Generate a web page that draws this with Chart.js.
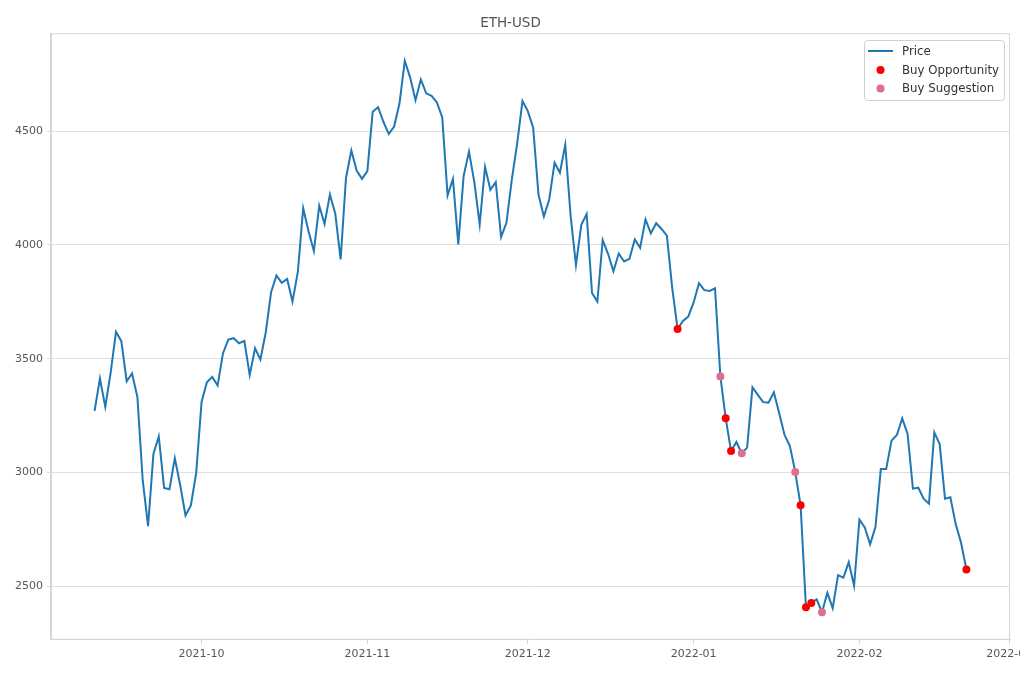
<!DOCTYPE html>
<html>
<head>
<meta charset="utf-8">
<title>ETH-USD</title>
<script src="https://cdn.jsdelivr.net/npm/chart.js@4.4.8/dist/chart.umd.min.js"></script>
<style>
  html, body { margin: 0; padding: 0; background: #fff; overflow: hidden; }
  #wrap { width: 1020px; height: 680px; overflow: hidden; position: relative; }
</style>
</head>
<body>
<div id="wrap"><canvas id="chart" width="1040" height="680"></canvas></div>
<script>
// daily closes, first one on startDate
const startDate = '2021-09-11';
const price = [
  3271, 3413, 3288, 3438, 3618, 3577, 3401, 3435, 3332, 2966,
  2764, 3081, 3158, 2932, 2926, 3063, 2945, 2811, 2855, 2998,
  3310, 3396, 3420, 3382, 3523, 3584, 3590, 3568, 3578, 3428,
  3546, 3496, 3615, 3792, 3866, 3833, 3850, 3751, 3881, 4161,
  4060, 3973, 4172, 4092, 4222, 4137, 3936, 4293, 4415, 4327,
  4290, 4324, 4585, 4605, 4541, 4487, 4520, 4621, 4809, 4735,
  4636, 4727, 4666, 4655, 4626, 4560, 4217, 4290, 4002, 4303,
  4410, 4276, 4090, 4342, 4242, 4276, 4034, 4097, 4286, 4444,
  4632, 4588, 4515, 4220, 4125, 4199, 4361, 4317, 4440, 4127,
  3912, 4088, 4136, 3789, 3751, 4021, 3961, 3884, 3962, 3927,
  3939, 4024, 3987, 4112, 4051, 4095, 4070, 4041, 3810, 3631,
  3666, 3685, 3747, 3832, 3801, 3798, 3809, 3422, 3238, 3094,
  3134, 3084, 3109, 3374, 3341, 3309, 3307, 3352, 3260, 3165,
  3116, 3002, 2856, 2408, 2426, 2443, 2386, 2471, 2404, 2549,
  2538, 2606, 2503, 2793, 2758, 2684, 2761, 3015, 3015, 3140,
  3165, 3238, 3169, 2929, 2933, 2885, 2863, 3176, 3125, 2885,
  2891, 2773, 2691, 2574
];
// day index (from startDate) and value of each marker
const buyOppDays = [109, 118, 119, 132, 133, 134, 163];
const buyOppValues = [3631, 3238, 3094, 2856, 2408, 2426, 2574];
const buySugDays = [117, 121, 131, 136];
const buySugValues = [3422, 3084, 3002, 2386];

const tickDates = ['2021-10-01', '2021-11-01', '2021-12-01', '2022-01-01', '2022-02-01', '2022-03-01'];
const tickLabels = ['2021-10', '2021-11', '2021-12', '2022-01', '2022-02', '2022-03'];
const yTicks = [2500, 3000, 3500, 4000, 4500];

function dayOf(s) {
  return Math.round((Date.parse(s) - Date.parse(startDate)) / 86400000);
}
const tickDays = tickDates.map(dayOf);

// matplotlib style 5% margins
const n = price.length - 1;
const xMin = -0.05 * n, xMax = n * 1.05;
const lo = Math.min(...price), hi = Math.max(...price);
const yMin = lo - 0.05 * (hi - lo), yMax = hi + 0.05 * (hi - lo);

const FONT = "'DejaVu Sans', sans-serif";

// frame around the plot + legend inside the upper right corner
const framePlugin = {
  id: 'frame',
  afterDraw(chart) {
    const c = chart.ctx, a = chart.chartArea;
    c.save();
    c.strokeStyle = '#d6d6d6';
    c.lineWidth = 1;
    c.strokeRect(a.left + 0.5, a.top + 0.5, a.right - a.left - 1, a.bottom - a.top - 1);

    // legend box
    const bx = 864.5, by = 40.5, bw = 140, bh = 60;
    c.fillStyle = 'rgba(255,255,255,0.85)';
    c.strokeStyle = '#d0d0d0';
    c.beginPath();
    c.roundRect(bx, by, bw, bh, 3);
    c.fill();
    c.stroke();
    c.font = '11.8px ' + FONT;
    c.textBaseline = 'middle';
    const rows = [51, 70, 88.5];
    chart.data.datasets.forEach((ds, k) => {
      const y = rows[k];
      if (ds.type === 'line') {
        c.strokeStyle = ds.borderColor;
        c.lineWidth = 2;
        c.beginPath();
        c.moveTo(868, y);
        c.lineTo(893, y);
        c.stroke();
      } else {
        c.fillStyle = ds.backgroundColor;
        c.beginPath();
        c.arc(880.5, y, 4, 0, Math.PI * 2);
        c.fill();
      }
      c.fillStyle = '#333';
      c.fillText(ds.label, 902, y + 0.5);
    });
    c.restore();
  }
};

new Chart(document.getElementById('chart'), {
  data: {
    datasets: [
      {
        type: 'line',
        label: 'Price',
        data: price.map((v, i) => ({ x: i, y: v })),
        borderColor: '#1f77b4',
        backgroundColor: '#1f77b4',
        borderWidth: 2,
        pointRadius: 0,
        tension: 0,
        order: 2
      },
      {
        type: 'scatter',
        label: 'Buy Opportunity',
        data: buyOppDays.map((d, k) => ({ x: d, y: buyOppValues[k] })),
        backgroundColor: '#ff0000',
        borderWidth: 0,
        pointRadius: 4,
        order: 1
      },
      {
        type: 'scatter',
        label: 'Buy Suggestion',
        data: buySugDays.map((d, k) => ({ x: d, y: buySugValues[k] })),
        backgroundColor: '#db7093',
        borderWidth: 0,
        pointRadius: 4,
        order: 0
      }
    ]
  },
  options: {
    responsive: false,
    animation: false,
    layout: { padding: { left: 11, right: 30, top: 0, bottom: 15 } },
    plugins: {
      legend: { display: false },
      tooltip: { enabled: false },
      title: {
        display: true,
        text: 'ETH-USD',
        color: '#555',
        font: { family: FONT, size: 13.5, weight: 'normal' },
        padding: { top: 15, bottom: 2 }
      }
    },
    scales: {
      x: {
        type: 'linear',
        min: xMin,
        max: xMax,
        afterBuildTicks(axis) { axis.ticks = tickDays.map(v => ({ value: v })); },
        ticks: {
          autoSkip: false,
          maxRotation: 0,
          padding: 4,
          color: '#555',
          font: { family: FONT, size: 11 },
          callback(v) { const k = tickDays.indexOf(v); return k >= 0 ? tickLabels[k] : ''; }
        },
        grid: { drawOnChartArea: false, drawTicks: true, tickLength: 4, color: '#d6d6d6' },
        border: { color: '#d6d6d6' }
      },
      y: {
        type: 'linear',
        min: yMin,
        max: yMax,
        afterBuildTicks(axis) { axis.ticks = yTicks.map(v => ({ value: v })); },
        ticks: {
          padding: 4,
          color: '#555',
          font: { family: FONT, size: 11 },
          callback(v) { return String(v); }
        },
        grid: { color: '#dedede', tickLength: 4 },
        border: { color: '#d6d6d6' }
      }
    }
  },
  plugins: [framePlugin]
});
</script>
</body>
</html>
